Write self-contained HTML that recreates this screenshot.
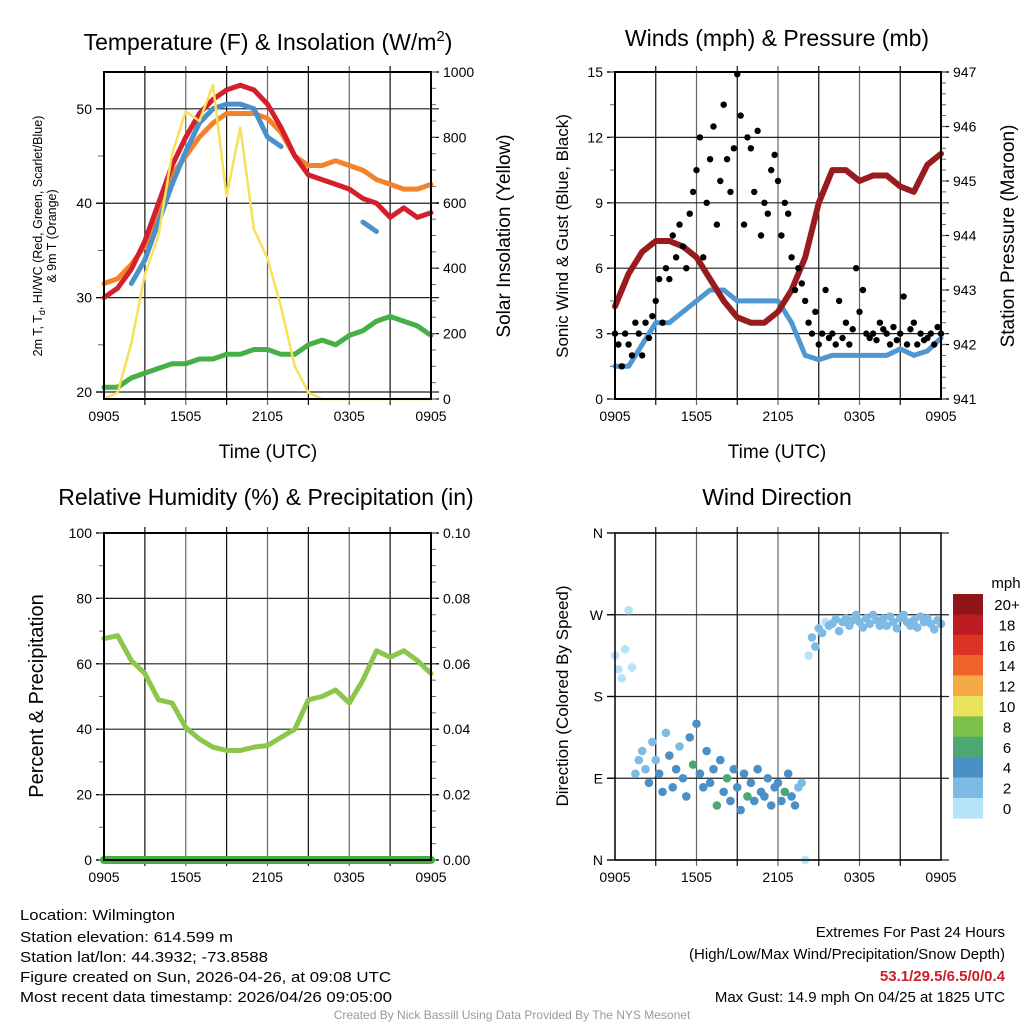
<!DOCTYPE html>
<html><head><meta charset="utf-8"><style>
html,body{margin:0;padding:0;background:#fff;}
svg{display:block;font-family:"Liberation Sans",Arial,sans-serif;}
</style></head><body>
<svg id="root" width="1024" height="1024" viewBox="0 0 1024 1024" xmlns="http://www.w3.org/2000/svg">
<g id="layer"></g>
<text x="268" y="50" font-size="23" text-anchor="middle">Temperature (F) &amp; Insolation (W/m<tspan dy="-9" font-size="15">2</tspan><tspan dy="9">)</tspan></text>
<text x="777" y="46" font-size="23" text-anchor="middle">Winds (mph) &amp; Pressure (mb)</text>
<text x="266" y="505" font-size="23" text-anchor="middle">Relative Humidity (%) &amp; Precipitation (in)</text>
<text x="777" y="505" font-size="23" text-anchor="middle">Wind Direction</text>
<text x="268" y="458" font-size="19" text-anchor="middle">Time (UTC)</text>
<text x="777" y="458" font-size="19" text-anchor="middle">Time (UTC)</text>
<text transform="translate(42,236) rotate(-90)" font-size="12.5" text-anchor="middle">2m T, T<tspan dy="3" font-size="9">d</tspan><tspan dy="-3">, HI/WC (Red, Green, Scarlet/Blue)</tspan></text>
<text transform="translate(56,236) rotate(-90)" font-size="12.5" text-anchor="middle">&amp; 9m T (Orange)</text>
<text transform="translate(510,236) rotate(-90)" font-size="19" text-anchor="middle">Solar Insolation (Yellow)</text>
<text transform="translate(568,236) rotate(-90)" font-size="17" text-anchor="middle">Sonic Wind &amp; Gust (Blue, Black)</text>
<text transform="translate(1014,236) rotate(-90)" font-size="19" text-anchor="middle">Station Pressure (Maroon)</text>
<text transform="translate(43,696) rotate(-90)" font-size="20" text-anchor="middle">Percent &amp; Precipitation</text>
<text transform="translate(568,696) rotate(-90)" font-size="17" text-anchor="middle">Direction (Colored By Speed)</text>
<text x="1006" y="588" font-size="15" text-anchor="middle">mph</text>
<g font-size="15">
<text x="20" y="920" textLength="155" lengthAdjust="spacingAndGlyphs">Location: Wilmington</text>
<text x="20" y="942" textLength="213" lengthAdjust="spacingAndGlyphs">Station elevation: 614.599 m</text>
<text x="20" y="962" textLength="248" lengthAdjust="spacingAndGlyphs">Station lat/lon: 44.3932; -73.8588</text>
<text x="20" y="982" textLength="371" lengthAdjust="spacingAndGlyphs">Figure created on Sun, 2026-04-26, at 09:08 UTC</text>
<text x="20" y="1002" textLength="372" lengthAdjust="spacingAndGlyphs">Most recent data timestamp: 2026/04/26 09:05:00</text>
</g>
<g font-size="15" text-anchor="end">
<text x="1005" y="937">Extremes For Past 24 Hours</text>
<text x="1005" y="959">(High/Low/Max Wind/Precipitation/Snow Depth)</text>
<text x="1005" y="981" fill="#c8202a" font-weight="bold">53.1/29.5/6.5/0/0.4</text>
<text x="1005" y="1002">Max Gust: 14.9 mph On 04/25 at 1825 UTC</text>
</g>
<text x="512" y="1019" font-size="12" fill="#999" text-anchor="middle">Created By Nick Bassill Using Data Provided By The NYS Mesonet</text>
</svg>
<script>
const hours = [0,1,2,3,4,5,6,7,8,9,10,11,12,13,14,15,16,17,18,19,20,21,22,23,24];
const xTickLabels = ["0905","1505","2105","0305","0905"];
const tempRed = [30,31,33,36,40,44,47,49.5,51,52,52.5,52,50.5,48,45,43,42.5,42,41.5,40.5,40,38.5,39.5,38.5,39];
const tempOrange = [31.5,32,33.5,35.5,39,43,45,47,48.5,49.5,49.5,49.5,49,47.5,45,44,44,44.5,44,43.5,42.5,42,41.5,41.5,42];
const tempBlue = [null,null,31.5,34,38,42,45.5,48.5,50,50.5,50.5,50,47,46,null,null,null,null,null,38,37,null,36.5,null,36.5];
const dewGreen = [20.5,20.5,21.5,22,22.5,23,23,23.5,23.5,24,24,24.5,24.5,24,24,25,25.5,25,26,26.5,27.5,28,27.5,27,26];
const solar = [0,20,170,380,500,750,880,850,960,620,830,520,430,280,100,20,0,0,0,0,0,0,0,0,0];
const windSpeed = [1.5,1.5,2.5,3.5,3.5,4,4.5,5,5,4.5,4.5,4.5,4.5,3.5,2,1.8,2,2,2,2,2,2.3,2,2.2,2.8];
const pressure = [942.7,943.3,943.7,943.9,943.9,943.8,943.6,943.2,942.8,942.5,942.4,942.4,942.6,943.0,943.6,944.6,945.2,945.2,945.0,945.1,945.1,944.9,944.8,945.3,945.5];
const gusts = [3,2.5,1.5,3, 2.5,2,3.5,3, 2,3.5,2.8,3.8, 4.5,5.5,3.5,6, 5.5,7.5,6.5,8, 7,6,8.5,9.5, 10.5,12,6.5,9, 11,12.5,8,10, 13.5,11,9.5,11.5, 14.9,13,8,12, 11.5,9.5,12.3,7.5, 9,8.5,10.5,11.2, 10,7.5,9,8.5, 6.5,5,6,5.3, 4.5,3.5,3,4, 2.5,3,5,2.8, 3,2.5,4.5,2.8, 3.5,2.5,3.2,6, 4,5,3,2.8, 3,2.7,3.5,3.2, 3,2.5,3.3,2.7, 3,4.7,2.5,3.2, 3.5,2.5,3,2.7, 2.8,3,2.5,3.3, 3];
const rh = [67.7,68.6,61,57,49,48,40.5,37,34.5,33.5,33.5,34.5,35,37.5,40,49,50,52,48,55,64,62,64,61,57];
const precip = [0,0,0,0,0,0,0,0,0,0,0,0,0,0,0,0,0,0,0,0,0,0,0,0,0];
const windDir = [225,210,200,232, 275,212,95,110, 120,100,85,130, 110,95,75,140, 115,80,100,125, 90,70,135,105, 150,95,80,120, 85,100,60,110, 75,90,65,100, 80,55,95,70, 85,65,100,75, 70,90,60,80, 85,65,75,95, 70,60,80,85, 0,225,245,235, 255,250,262,258, 260,265,252,262, 266,258,264,270, 262,256,266,260, 270,264,258,266, 258,268,262,255, 266,270,262,258, 264,256,268,262, 266,260,254,264, 260];
const dirSpeed = [0,1,1,0, 0,1,3,2, 2,3,4,2, 3,4,5,2, 4,4,5,3, 4,5,4,6, 4,5,4,4, 5,5,6,4, 5,7,4,4, 5,4,4,6, 4,5,4,5, 4,4,4,5, 4,5,6,4, 4,5,3,3, 1,1,2,2, 2,2,1,2, 2,2,2,2, 2,2,2,2, 2,2,2,2, 2,2,2,2, 2,2,2,2, 2,2,2,2, 2,2,2,2, 2,2,2,2, 2,2,2,2, 2];
const legendLabels = ["20+","18","16","14","12","10","8","6","4","2","0"];
const legendColors = ["#8f1518","#bc1b24","#dd3226","#ef632b","#f6aa45","#e8e35a","#7cc04a","#4aa870","#4a8fc6","#7ebbe4","#b5e3f8"];

const NS="http://www.w3.org/2000/svg";
const layer=document.getElementById('layer');
function mk(tag,attrs,parent){const e=document.createElementNS(NS,tag);for(const k in attrs)e.setAttribute(k,attrs[k]);(parent||layer).appendChild(e);return e;}
const P1={x0:104,x1:431,y0:72,y1:399}, P2={x0:615,x1:941,y0:72,y1:399}, P3={x0:104,x1:431,y0:533,y1:860}, P4={x0:615,x1:941,y0:533,y1:860};
function xs(P,h){return P.x0+(P.x1-P.x0)*h/24;}
function ys(P,v,lo,hi){return P.y1-(P.y1-P.y0)*(v-lo)/(hi-lo);}

function frame(P,name){
  const g=mk('g',{});
  
  
  for(let i=1;i<8;i++){const x=P.x0+(P.x1-P.x0)*i/8;mk('line',{x1:x,x2:x,y1:P.y0-6,y2:P.y1+6,stroke:(i%2? '#111':'#666'),'stroke-width':1.2},g);}
  for(let i=0;i<5;i++){const x=P.x0+(P.x1-P.x0)*i/4;const t=mk('text',{x:x,y:P.y1+22,'font-size':14,'text-anchor':'middle'},g);t.textContent=xTickLabels[i];
    
    }
  return g;
}
function box(P,name){
  const r=mk('rect',{x:P.x0,y:P.y0,width:P.x1-P.x0,height:P.y1-P.y0,fill:'none',stroke:'#000','stroke-width':2});
  
  
}
function yAxis(P,side,lo,hi,majors,labels,minorStep,grid,name){
  const g=mk('g',{});
  
  
  const xe= side==='L'?P.x0:P.x1;
  const dir= side==='L'?-1:1;
  majors.forEach((v,i)=>{const y=ys(P,v,lo,hi);
    if(grid) mk('line',{x1:P.x0-8,x2:P.x1+8,y1:y,y2:y,stroke:'#222','stroke-width':1.2},g);
    mk('line',{x1:xe,x2:xe+dir*8,y1:y,y2:y,stroke:'#000','stroke-width':1.2},g);
    const t=mk('text',{x:xe+dir*12,y:y+5,'font-size':14,'text-anchor':side==='L'?'end':'start'},g);t.textContent=labels[i];
    
    
  });
  if(minorStep){for(let v=lo;v<=hi+1e-9;v+=minorStep){const y=ys(P,v,lo,hi);if(y<P.y0-0.5||y>P.y1+0.5)continue;mk('line',{x1:xe,x2:xe+dir*5,y1:y,y2:y,stroke:'#666','stroke-width':1},g);}}
}
function line(P,arr,lo,hi,color,w,name){
  let d='',pen=false;
  arr.forEach((v,i)=>{if(v===null){pen=false;return;}const x=xs(P,hours[i]),y=ys(P,v,lo,hi);d+=(pen?'L':'M')+x.toFixed(1)+' '+y.toFixed(1);pen=true;});
  const p=mk('path',{d:d,fill:'none',stroke:color,'stroke-width':w,'stroke-linejoin':'round','stroke-linecap':'round'});
  
  
}

// Panel 1
frame(P1,'temp');
const T_LO=19.26,T_HI=53.9;
yAxis(P1,'L',T_LO,T_HI,[20,30,40,50],['20','30','40','50'],null,true,'temp-left-axis');
yAxis(P1,'R',0,1000,[0,200,400,600,800,1000],['0','200','400','600','800','1000'],50,false,'solar-right-axis');
[25,35,45].forEach(v=>{const y=ys(P1,v,T_LO,T_HI);mk('line',{x1:P1.x0,x2:P1.x0-6,y1:y,y2:y,stroke:'#666'});});
line(P1,dewGreen,T_LO,T_HI,'#46b046',5,'dewpoint-line');
line(P1,tempOrange,T_LO,T_HI,'#f4812c',5,'temp-9m-line');
line(P1,tempRed,T_LO,T_HI,'#d3202a',5,'temp-2m-line');
line(P1,tempBlue,T_LO,T_HI,'#4a91cc',5,'windchill-line');
line(P1,solar.map(v=>T_LO+(T_HI-T_LO)*v/1000),T_LO,T_HI,'#f7e15a',2.5,'solar-line');
box(P1,'temp');

// Panel 2
frame(P2,'wind');
yAxis(P2,'L',0,15,[0,3,6,9,12,15],['0','3','6','9','12','15'],1.5,true,'wind-left-axis');
yAxis(P2,'R',941,947,[941,942,943,944,945,946,947],['941','942','943','944','945','946','947'],0.2,false,'pressure-right-axis');
line(P2,windSpeed,0,15,'#4f97d2',5,'wind-speed-line');
line(P2,pressure,941,947,'#981b1e',6,'pressure-line');
gusts.forEach((g,i)=>{const c=mk('circle',{cx:xs(P2,i*0.25),cy:ys(P2,g,0,15),r:3.2,fill:'#000'});
  
  });
box(P2,'wind');

// Panel 3
frame(P3,'rh');
yAxis(P3,'L',0,100,[0,20,40,60,80,100],['0','20','40','60','80','100'],10,true,'rh-left-axis');
yAxis(P3,'R',0,0.1,[0,0.02,0.04,0.06,0.08,0.1],['0.00','0.02','0.04','0.06','0.08','0.10'],0.005,false,'precip-right-axis');
line(P3,rh,0,100,'#8cc64a',5,'rh-line');
line(P3,precip,0,0.1,'#40b040',8,'precip-line');
box(P3,'rh');

// Panel 4
frame(P4,'direction');
yAxis(P4,'L',0,360,[0,90,180,270,360],['N','E','S','W','N'],null,true,'direction-left-axis');
function speedColor(s){const idx=Math.min(10,Math.floor(s/2));return legendColors[10-idx];}
windDir.forEach((d,i)=>{const c=mk('circle',{cx:xs(P4,i*0.25),cy:ys(P4,d,0,360),r:4.3,fill:speedColor(dirSpeed[i])});
  
  });
mk('rect',{x:P4.x0,y:P4.y0,width:P4.x1-P4.x0,height:P4.y1-P4.y0,fill:'none',stroke:'#000','stroke-width':1.5});
legendLabels.forEach((lab,i)=>{const y=594+i*20.4;
  const r=mk('rect',{x:953,y:y,width:30,height:20.6,fill:legendColors[i]});
  
  
  const t=mk('text',{x:1007,y:y+16,'font-size':15,'text-anchor':'middle'});t.textContent=lab;
  
  
});
</script>
</body></html>
